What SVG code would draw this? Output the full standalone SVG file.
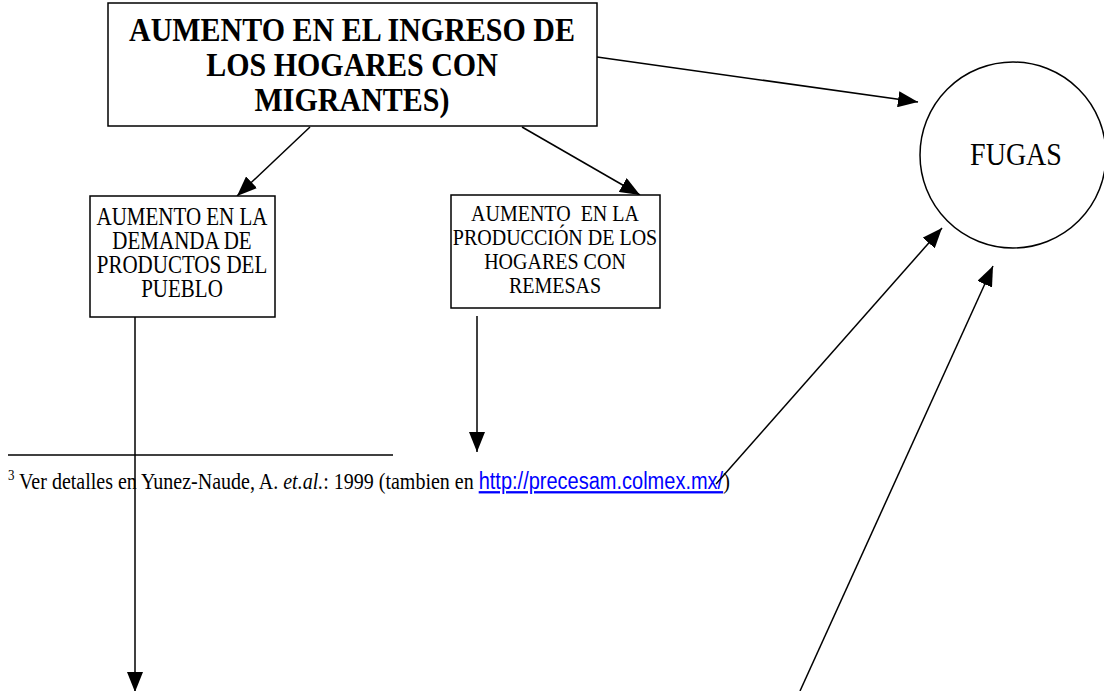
<svg xmlns="http://www.w3.org/2000/svg" width="1104" height="691" viewBox="0 0 1104 691">
<defs>
<marker id="ah" markerUnits="userSpaceOnUse" markerWidth="22" markerHeight="16" refX="20" refY="8" orient="auto">
<path d="M0,0 L20,8 L0,16 Z" fill="#000"/>
</marker>
<style>
.box{fill:#fff;stroke:#000;stroke-width:1.5}
.t{font-family:"Liberation Serif","Times New Roman",serif;fill:#000;text-anchor:middle}
.tb{font-size:30px;font-weight:bold}
.tn{font-size:21px}
.tn2{font-size:20px}
.c{stroke:#000;stroke-width:1.5;fill:none}
.a{marker-end:url(#ah)}
.fn{font-family:"Liberation Serif","Times New Roman",serif;font-size:20px;fill:#000}
.lnk{font-family:"Liberation Sans",Arial,sans-serif;fill:#0000ff;text-decoration:underline}
</style>
</defs>
<rect width="1104" height="691" fill="#fff"/>
<g id="footnote">
<line x1="8" y1="455" x2="393" y2="455" stroke="#000" stroke-width="1.5"/>
<text class="fn" transform="translate(0,489) scale(1,1.15)" x="8" y="0"><tspan font-size="13" dy="-8">3</tspan><tspan dy="8"> Ver detalles en Yunez-Naude, A. </tspan><tspan font-style="italic">et.al.</tspan><tspan>: 1999 (tambien en </tspan><tspan class="lnk">http://precesam.colmex.mx/</tspan><tspan>)</tspan></text>
</g>
<g id="connectors">
<line class="c a" x1="310" y1="127" x2="237" y2="196"/>
<line class="c a" x1="522" y1="127" x2="640" y2="195"/>
<line class="c a" x1="597" y1="57" x2="918" y2="102"/>
<line class="c a" x1="135" y1="317" x2="135" y2="692"/>
<line class="c a" x1="477" y1="316" x2="477" y2="452"/>
<line class="c a" x1="716" y1="484" x2="942" y2="228"/>
<line class="c a" x1="800" y1="691" x2="993" y2="266"/>
</g>
<g id="ingreso">
<rect class="box" x="108" y="3" width="489" height="123"/>
<text class="t tb" transform="translate(352,41) scale(1,1.15)">AUMENTO EN EL INGRESO DE</text>
<text class="t tb" transform="translate(352,76) scale(1,1.15)">LOS HOGARES CON</text>
<text class="t tb" transform="translate(352,111) scale(1,1.15)">MIGRANTES)</text>
</g>
<g id="demanda">
<rect class="box" x="90" y="196" width="185" height="121"/>
<text class="t tn" transform="translate(182,225) scale(1,1.15)">AUMENTO EN LA</text>
<text class="t tn" transform="translate(182,249) scale(1,1.15)">DEMANDA DE</text>
<text class="t tn" transform="translate(182,273) scale(1,1.15)">PRODUCTOS DEL</text>
<text class="t tn" transform="translate(182,297) scale(1,1.15)">PUEBLO</text>
</g>
<g id="produccion">
<rect class="box" x="451" y="195" width="209" height="113"/>
<text class="t tn2" transform="translate(555,221) scale(1,1.15)" xml:space="preserve">AUMENTO  EN LA</text>
<text class="t tn2" transform="translate(555,245) scale(1,1.15)">PRODUCCIÓN DE LOS</text>
<text class="t tn2" transform="translate(555,269) scale(1,1.15)">HOGARES CON</text>
<text class="t tn2" transform="translate(555,293) scale(1,1.15)">REMESAS</text>
</g>
<g id="fugas">
<circle cx="1013" cy="155" r="93" fill="#fff" stroke="#000" stroke-width="1.5"/>
<text class="t" transform="translate(1016,165) scale(1,1.15)" font-size="28">FUGAS</text>
</g>
</svg>
